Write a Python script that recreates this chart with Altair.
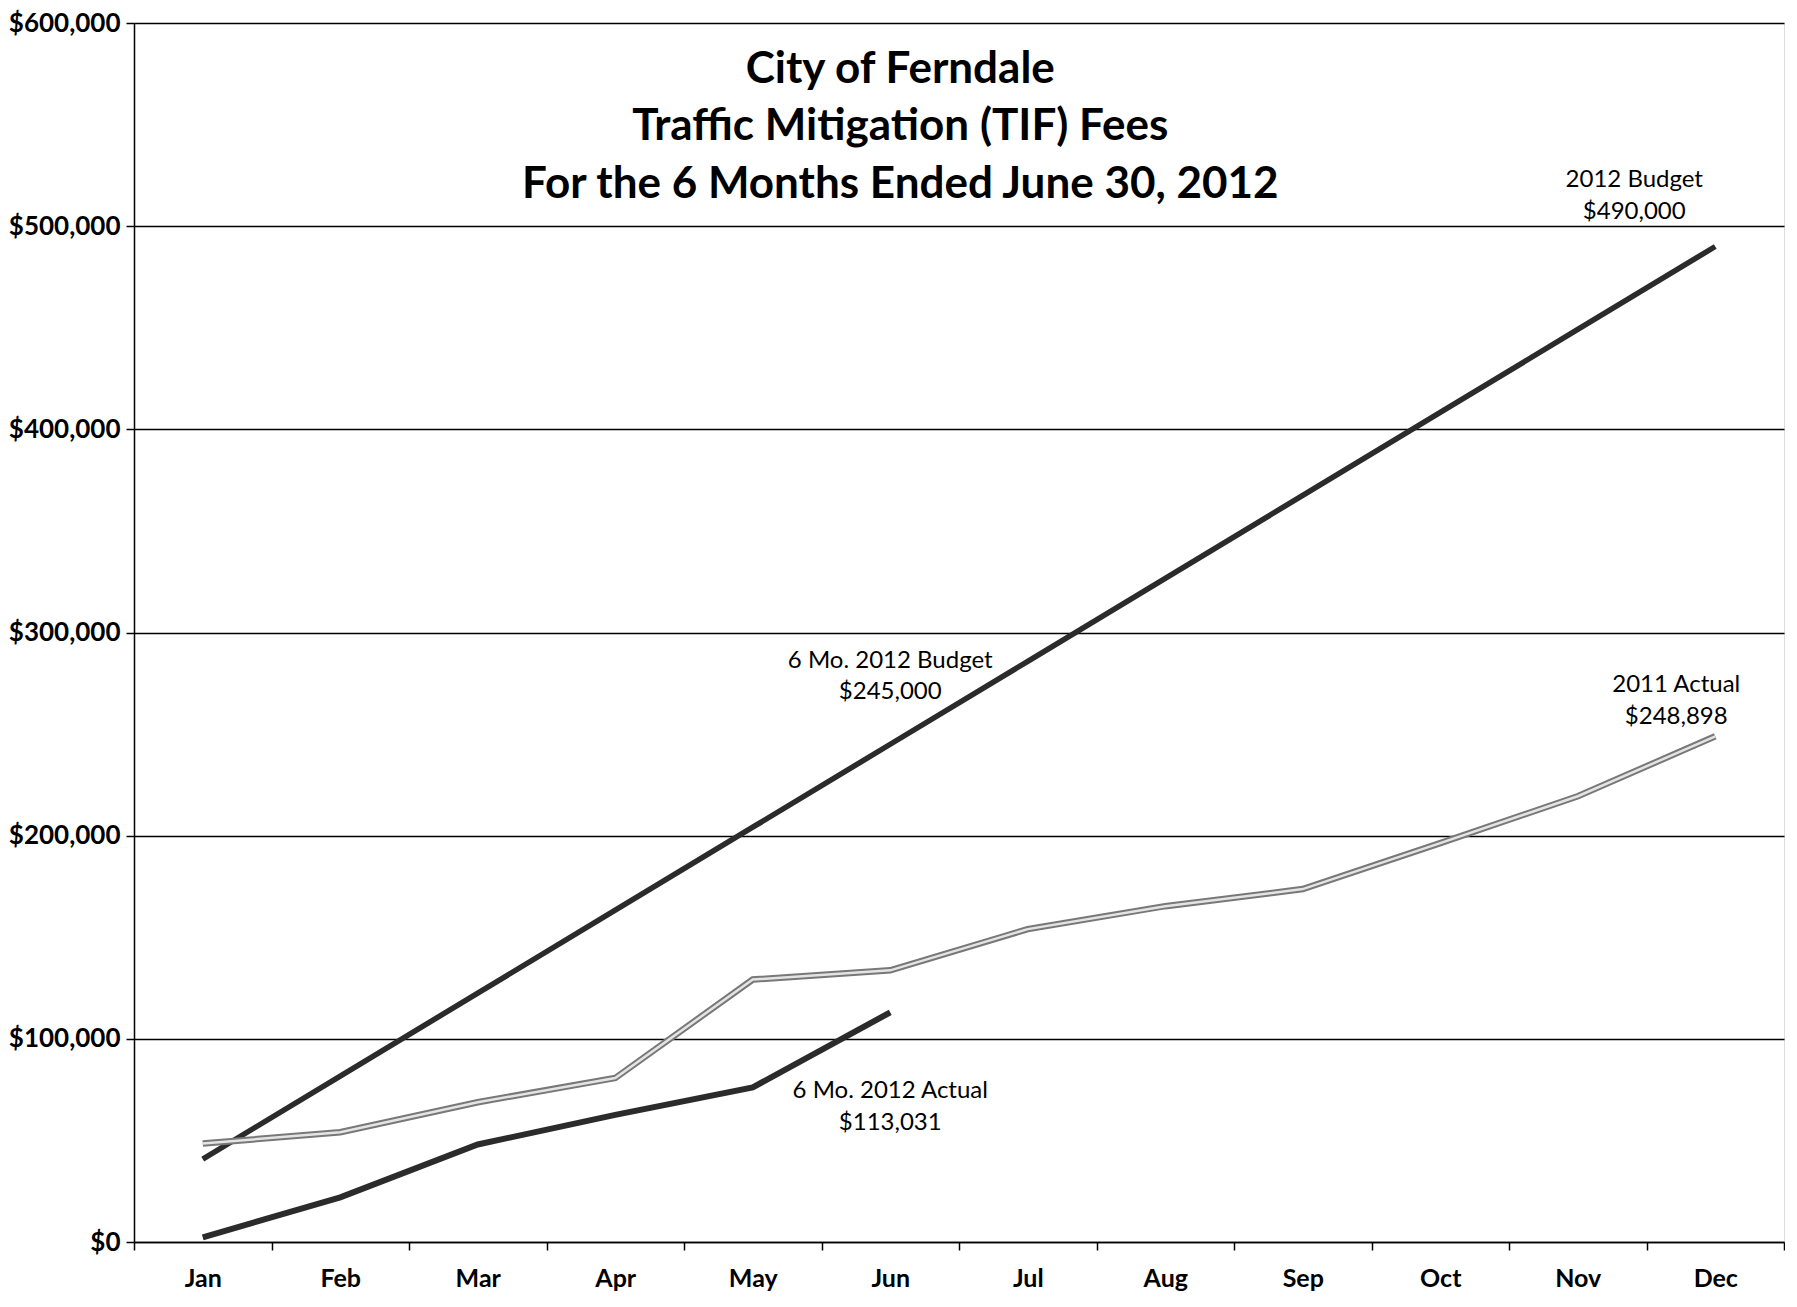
import altair as alt
import pandas as pd

months = ["Jan", "Feb", "Mar", "Apr", "May", "Jun", "Jul", "Aug", "Sep", "Oct", "Nov", "Dec"]
budget_2012 = [40833, 81667, 122500, 163333, 204167, 245000, 285833, 326667, 367500, 408333, 449167, 490000]
actual_2011 = [48500, 54000, 68800, 80700, 129200, 133700, 154000, 165300, 173700, 196300, 219400, 248898]
actual_2012 = [2300, 22000, 48000, 62600, 76100, 113031]

title_lines = ["City of Ferndale", "Traffic Mitigation (TIF) Fees", "For the 6 Months Ended June 30, 2012"]
title_values = [577000, 549000, 520500]

budget_labels = ["2012 Budget", "$490,000"]
budget_label_values = [522800, 507000]
actual11_labels = ["2011 Actual", "$248,898"]
actual11_label_values = [274100, 258300]
jun_labels = ["6 Mo. 2012 Budget", "$245,000", "6 Mo. 2012 Actual", "$113,031"]
jun_label_values = [286000, 270700, 74450, 58650]

y_ticks = [0, 100000, 200000, 300000, 400000, 500000, 600000]

FONT = "Lato"

df_budget = pd.DataFrame({"month": months, "value": budget_2012})
df_2011 = pd.DataFrame({"month": months, "value": actual_2011})
df_2012 = pd.DataFrame({"month": months[:6], "value": actual_2012})
df_title = pd.DataFrame({"month": ["Jun"] * 3, "value": title_values, "text": title_lines})
df_bl = pd.DataFrame({"month": ["Dec"] * 2, "value": budget_label_values, "text": budget_labels})
df_al = pd.DataFrame({"month": ["Dec"] * 2, "value": actual11_label_values, "text": actual11_labels})
df_jl = pd.DataFrame({"month": ["Jun"] * 4, "value": jun_label_values, "text": jun_labels})

x_enc = alt.X(
    "month:N",
    sort=months,
    scale=alt.Scale(type="band", domain=months, paddingInner=0, paddingOuter=0),
    axis=alt.Axis(
        title=None, labelAngle=0, tickBand="extent", labelFont=FONT, labelFontWeight="bold",
        labelFontSize=25, labelColor="black", labelPadding=16, tickColor="black", tickSize=8,
        tickWidth=1.5, domainColor="black", domainWidth=1.5, grid=False,
    ),
)
y_enc = alt.Y(
    "value:Q",
    scale=alt.Scale(domain=[0, 600000], nice=False),
    axis=alt.Axis(
        title=None, values=y_ticks, format="$,.0f", labelFont=FONT, labelFontWeight="bold",
        labelFontSize=26, labelColor="black", labelPadding=6, tickColor="black", tickSize=8,
        tickWidth=1.5, domainColor="black", domainWidth=1.5, grid=True, gridColor="black",
        gridWidth=1.5, gridOpacity=1,
    ),
)

budget_line = alt.Chart(df_budget).mark_line(color="#2b2b2b", strokeWidth=5.5).encode(x=x_enc, y=y_enc)
a11_outer = alt.Chart(df_2011).mark_line(color="#787878", strokeWidth=6.5).encode(x=x_enc, y=y_enc)
a11_inner = alt.Chart(df_2011).mark_line(color="#e4e4e4", strokeWidth=2.5).encode(x=x_enc, y=y_enc)
a12_line = alt.Chart(df_2012).mark_line(color="#2b2b2b", strokeWidth=6).encode(x=x_enc, y=y_enc)

title_text = alt.Chart(df_title).mark_text(
    font=FONT, fontWeight="bold", fontSize=44, color="black", dx=10, align="center", baseline="middle"
).encode(x=x_enc, y=y_enc, text="text:N")

bl_text = alt.Chart(df_bl).mark_text(
    font=FONT, fontSize=24, color="black", dx=-81, align="center", baseline="middle"
).encode(x=x_enc, y=y_enc, text="text:N")
al_text = alt.Chart(df_al).mark_text(
    font=FONT, fontSize=24, color="black", dx=-39, align="center", baseline="middle"
).encode(x=x_enc, y=y_enc, text="text:N")
jl_text = alt.Chart(df_jl).mark_text(
    font=FONT, fontSize=24, color="black", dx=0, align="center", baseline="middle"
).encode(x=x_enc, y=y_enc, text="text:N")

chart = alt.layer(
    budget_line, a11_outer, a11_inner, a12_line, title_text, bl_text, al_text, jl_text
).properties(
    width=1650, height=1219, padding={"left": 0, "top": 2, "right": 0, "bottom": 0}
).configure_view(stroke=None).configure(background="white")

chart.save("out.html", embed_options={"renderer": "svg", "actions": False})
